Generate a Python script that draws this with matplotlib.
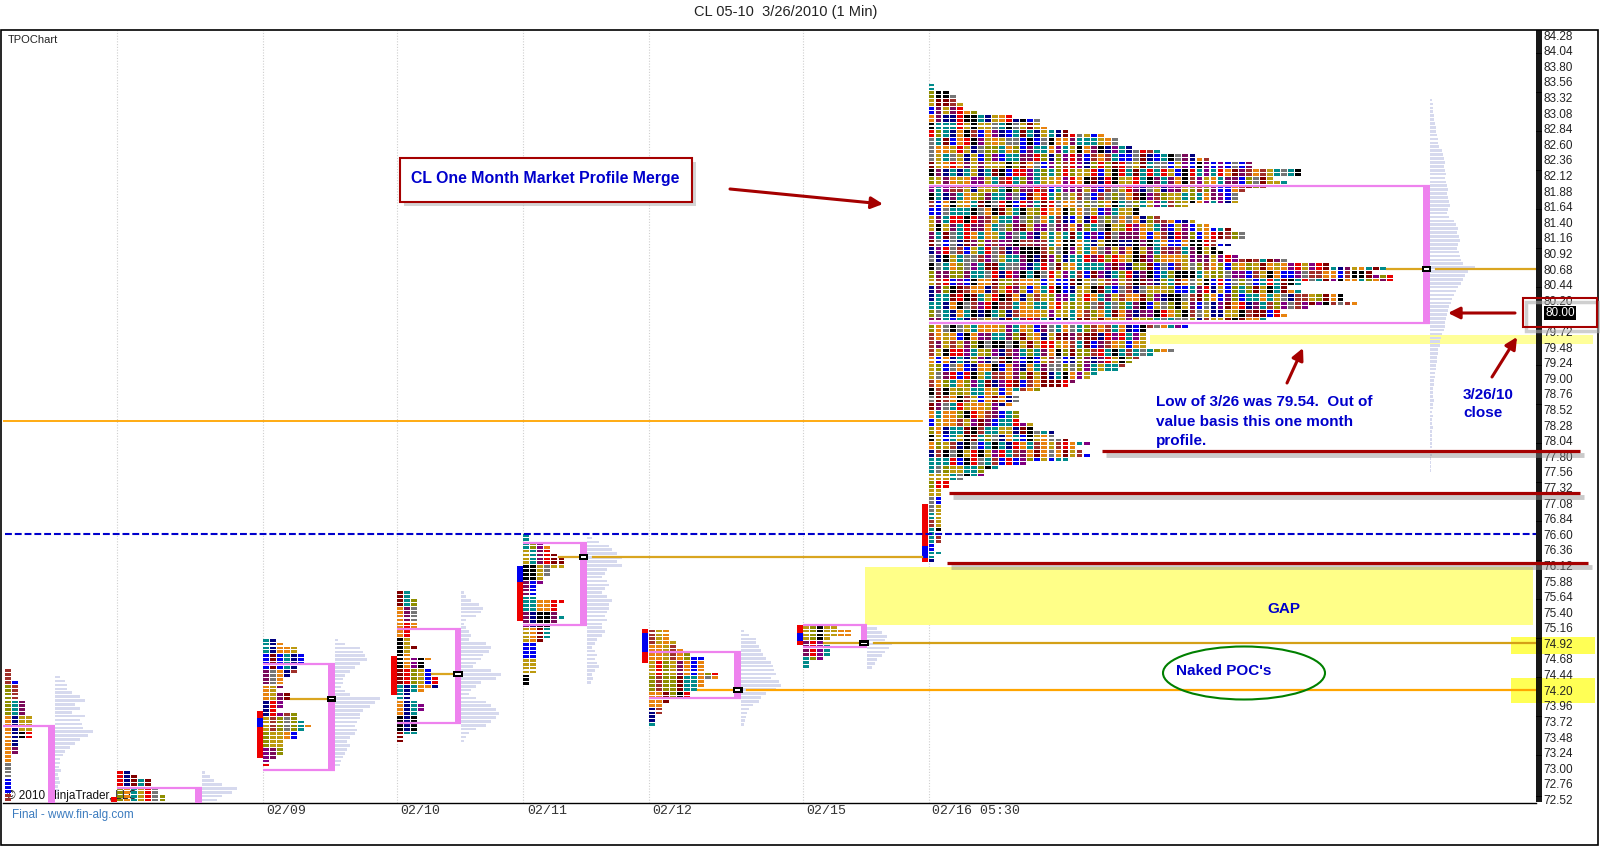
import matplotlib
matplotlib.use("Agg")
import matplotlib.pyplot as plt
from matplotlib.patches import Rectangle, Ellipse
from matplotlib.collections import PatchCollection
from matplotlib import transforms
import matplotlib.ticker as mticker
import numpy as np

plt.rcParams['font.family'] = ['Liberation Sans', 'DejaVu Sans']

# ---------------- data ----------------
TITLE = "CL 05-10  3/26/2010 (1 Min)"
ROW = 0.06  # price height of one TPO row

session_label = ["", "", "02/09", "02/10", "02/11", "02/12", "02/15", "02/16 05:30"]
session_start = [-0.75, 16.2, 36.9, 55.9, 73.8, 91.6, 113.5, 131.3]   # in TPO-period columns
tpo_top = [74.74, 72.93, 74.97, 75.70, 76.58, 75.11, 75.17, 83.51]     # price of top TPO row

tpo_0205 = [1, 1, 1, 1, 2, 2, 2, 3, 3, 3, 3, 3, 4, 4, 4, 4, 5, 5, 5, 5, 5, 5, 3, 3, 3, 3,
            2, 2, 2, 2, 2, 2, 2, 2, 2, 2, 2, 2]
tpo_0208 = [2, 3, 5, 5, 6, 6, 7, 7]
tpo_0209 = [2, 3, 5, 5, 6, 6, 6, 5, 5, 4, 3, 3, 3, 2, 4, 4, 3, 3, 2, 5, 5, 6, 7, 6, 5, 5,
            3, 3, 3, 3, 2, 1, 1]
tpo_0210 = [2, 2, 3, 3, 3, 3, 3, 3, 3, 3, 2, 2, 2, 2, 3, 2, 2, 5, 4, 4, 5, 5, 6, 6, 6, 4,
            2, 2, 3, 4, 4, 3, 3, 3, 3, 3, 3, 1, 1]
tpo_0211 = [1, 1, 3, 4, 4, 5, 6, 6, 6, 4, 4, 3, 3, 2, 2, 2, 2, 6, 5, 5, 5, 6, 5, 4, 4, 4,
            4, 3, 2, 2, 2, 2, 2, 2, 2, 2, 1, 1, 1]
tpo_0212 = [3, 3, 3, 4, 4, 5, 6, 8, 8, 8, 8, 10, 10, 8, 8, 7, 6, 6, 3, 2, 2, 2, 1, 1, 1]
tpo_0215 = [5, 7, 7, 4, 3, 4, 4, 4, 3, 1, 1]
tpo_month = [1, 1, 3, 4, 4, 5, 5, 7, 12, 16, 16, 17, 20, 25, 27, 27, 29, 33, 38, 40,
             46, 46, 53, 53, 49, 51, 48, 45, 44, 44, 44, 37, 30, 30, 33, 38, 40, 43, 45, 45,
             41, 43, 41, 42, 44, 51, 57, 65, 63, 66, 66, 53, 51, 53, 59, 59, 61, 54, 50, 51,
             48, 37, 37, 31, 31, 31, 31, 31, 35, 32, 30, 29, 28, 27, 24, 23, 21, 20, 16, 12,
             13, 13, 12, 10, 13, 13, 13, 15, 15, 18, 18, 20, 23, 21, 22, 23, 20, 14, 10, 8,
             8, 5, 3, 3, 2, 2, 2, 2, 2, 2, 2, 2, 2, 2, 2, 1, 2, 2, 1, 1, 2, 1, 1]

va_high = [73.65, 72.70, 74.60, 75.14, 76.46, 74.79, 75.20, 81.95]
va_low = [72.30, 72.30, 72.97, 73.70, 75.20, 74.08, 74.86, 79.85]
poc = [None, None, 74.07, 74.45, 76.25, 74.20, 74.92, 80.68]

# opening-range bars: (low, high, colour)
open_range = [
    [],
    [(72.48, 72.56, 'red')],
    [(73.16, 73.88, 'red'), (73.63, 73.77, 'blue')],
    [(74.13, 74.73, 'red')],
    [(75.27, 75.87, 'red'), (75.87, 76.11, 'blue')],
    [(74.62, 74.79, 'red'), (74.79, 75.08, 'blue'), (75.08, 75.14, 'red')],
    [(74.90, 74.96, 'red'), (74.96, 75.08, 'blue'), (75.08, 75.20, 'red')],
    [(76.17, 76.24, 'red'), (76.24, 76.42, 'blue'), (76.42, 77.06, 'red')],
]

vol_top = [74.40, 72.93, 74.97, 75.70, 76.54, 75.11, 75.15, 83.28]
vol_0205 = [5, 10, 12, 12, 17, 25, 30, 20, 25, 17, 30, 25, 27, 28, 38, 33, 25, 20, 15, 10,
            8, 5, 5, 4, 6, 3, 4, 5, 3, 4, 3, 3]
vol_0208 = [3, 8, 12, 20, 35, 30, 20, 15]
vol_0209 = [3, 10, 25, 28, 30, 32, 25, 20, 15, 10, 8, 8, 6, 10, 15, 45, 40, 35, 28, 25,
            25, 22, 20, 22, 20, 15, 12, 15, 12, 10, 8, 6, 5]
vol_0210 = [3, 5, 10, 18, 22, 20, 15, 5, 3, 5, 8, 10, 8, 25, 30, 28, 22, 20, 15, 12,
            30, 40, 35, 20, 15, 10, 8, 15, 25, 30, 35, 38, 35, 30, 25, 15, 8, 5, 3]
vol_0211 = [5, 12, 22, 25, 30, 35, 30, 35, 20, 18, 15, 20, 22, 18, 15, 20, 25, 22, 22, 20,
            18, 20, 15, 15, 18, 15, 10, 8, 5, 8, 10, 8, 10, 12, 8, 5, 6, 4]
vol_0212 = [3, 8, 15, 15, 18, 20, 22, 25, 30, 32, 33, 35, 30, 38, 40, 35, 25, 20, 18, 12,
            8, 6, 5, 4, 3]
vol_0215 = [10, 15, 20, 18, 25, 22, 18, 15, 10, 8, 5]
vol_month = [2, 3, 3, 3, 4, 4, 5, 6, 6, 7, 8, 8, 9, 12, 13, 14, 15, 14, 15, 16, 15,
             16, 17, 18, 17, 18, 19, 20, 18, 17, 19, 24, 26, 28, 27, 29, 30, 28,
             27, 29, 30, 31, 33, 45, 38, 35, 33, 31, 28, 26, 24, 22, 21,
             19, 18, 17, 16, 15, 15, 14, 12, 11, 10, 10, 8, 8, 7, 7, 6, 6, 5, 5,
             4, 4, 3, 3, 3, 4, 3, 3, 2, 3, 2, 2, 3, 2, 2, 2, 2, 2, 1, 2, 1, 1, 1, 1]

naked_poc_old = 78.34
prior_high_level = 76.61
support_levels = [77.88, 77.24, 76.16]
close_price = 80.00
low_band = (79.52, 79.67)
gap_zone = (75.20, 76.10)
naked_poc_marks = [74.92, 74.20]

profiles = [tpo_0205, tpo_0208, tpo_0209, tpo_0210, tpo_0211, tpo_0212, tpo_0215, tpo_month]
volumes = [vol_0205, vol_0208, vol_0209, vol_0210, vol_0211, vol_0212, vol_0215, vol_month]

# ---------------- layout / style ----------------
W, H = 1600, 846
PXU = 7.05            # pixels per TPO column
def px2x(px):
    return (px - 3) / PXU
def py2p(py):
    return 84.28 - (py - 35) / 65.0
def P(x, y):
    return (x / W, 1 - y / H)

XMAX = px2x(1536)
va_box_cols = [8.15, 12.0, 10.2, 9.1, 9.0, 13.1, 9.1, 71.1]
poc_ext_end = [None, None, None, None, px2x(922), XMAX, XMAX, XMAX]
poc_color = [None, None, '#DAA520', '#DAA520', '#D9A520', '#FFA500', '#D4A017', '#DAA520']

PALETTE = ['#008B8B', '#800000', '#800080', '#E8830F', '#BC9A10', '#0000F0',
           '#000080', '#000000', '#767676', '#E80000', '#A0302A', '#8E8E00',
           '#E8830F', '#008B8B', '#BC9A10', '#7A0A5A']

def tpo_color(p, r, c, run):
    h = (c * 2654435761 + (r // run) * 40503 + p * 977 + 12345) & 0xffffffff
    h ^= h >> 13
    h = (h * 0x5bd1e995) & 0xffffffff
    h ^= h >> 15
    return PALETTE[h % len(PALETTE)]

VIOLET = '#EE82EE'
DARKRED = '#A50000'
BLUE_TXT = '#0000CC'

fig = plt.figure(figsize=(W / 100, H / 100), dpi=100)
fig.patch.set_facecolor('white')
ax = fig.add_axes([3 / W, 1 - 803 / H, (1536 - 3) / W, (803 - 30) / H])
ax.set_xlim(0, XMAX)
ax.set_ylim(py2p(803), py2p(30))
ax.set_facecolor('white')

# grid lines at session starts
for s in session_start[1:]:
    ax.axvline(s, color='#CFCFCF', lw=0.8, ls=(0, (1, 1.5)), zorder=0.5)

# yellow zones
ax.add_patch(Rectangle((px2x(1150), low_band[0]), px2x(1593) - px2x(1150), low_band[1] - low_band[0],
                       fc='#FFFF99', ec='none', zorder=1, clip_on=False))
ax.add_patch(Rectangle((px2x(865), gap_zone[0]), px2x(1533) - px2x(865), gap_zone[1] - gap_zone[0],
                       fc='#FFFF88', ec='none', zorder=1))
for lvl, (lo_pad, hi_pad) in zip(naked_poc_marks, [(0.16, 0.10), (0.20, 0.19)]):
    ax.add_patch(Rectangle((px2x(1511), lvl - lo_pad), px2x(1595) - px2x(1511), lo_pad + hi_pad,
                           fc='#FFFF55', ec='none', zorder=1, clip_on=False))

# older naked POC line
ax.plot([0, px2x(922)], [naked_poc_old] * 2, color='#FFA500', lw=1.3, zorder=2)

# volume profiles + TPO blocks
blocks, colors, vbars = [], [], []
for p, (start, top, counts) in enumerate(zip(session_start, tpo_top, profiles)):
    run = 2 if p == 7 else 4
    for r, n in enumerate(counts):
        price = top - r * ROW
        for c in range(n):
            blocks.append(Rectangle((start + c, price - 0.021), 0.82, 0.042))
            colors.append(tpo_color(p, r, c, run))
    box_right = start + va_box_cols[p]
    for r, v in enumerate(volumes[p]):
        vbars.append(Rectangle((box_right, vol_top[p] - r * ROW - 0.02), v / PXU, 0.04))
ax.add_collection(PatchCollection(vbars, facecolors='#D6D9EE', edgecolors='none', zorder=2))
ax.add_collection(PatchCollection(blocks, facecolors=colors, edgecolors='none', zorder=3))

# opening range bars, value areas, POCs
for p, start in enumerate(session_start):
    for lo, hi, col in open_range[p]:
        ax.add_patch(Rectangle((start - 0.92, lo), 0.87, hi - lo,
                               fc={'red': '#EE0000', 'blue': '#0000EE'}[col], ec='none', zorder=3.2))
    box_right = start + va_box_cols[p]
    ax.plot([start, box_right], [va_high[p]] * 2, color=VIOLET, lw=1.6, zorder=4,
            solid_capstyle='butt')
    ax.plot([start, box_right], [va_low[p]] * 2, color=VIOLET, lw=1.6, zorder=4,
            solid_capstyle='butt')
    ax.add_patch(Rectangle((box_right - 0.95, va_low[p]), 0.95, va_high[p] - va_low[p],
                           fc=VIOLET, ec='none', zorder=4))
    if poc[p] is not None:
        counts = profiles[p]
        rr = int(round((tpo_top[p] - poc[p]) / ROW))
        x0 = start + counts[rr]
        ax.plot([x0, box_right - 1.1], [poc[p]] * 2, color=poc_color[p], lw=1.6, zorder=3.5)
        if poc_ext_end[p] is not None:
            ax.plot([box_right + 0.9, poc_ext_end[p]], [poc[p]] * 2, color=poc_color[p],
                    lw=1.6, zorder=3.5)
        ax.add_patch(Rectangle((box_right - 1.15, poc[p] - 0.045), 1.35, 0.09,
                               fc='black', ec='none', zorder=5))
        ax.add_patch(Rectangle((box_right - 0.85, poc[p] - 0.012), 0.75, 0.024,
                               fc='white', ec='none', zorder=6))

# prior high dashed line
ax.plot([px2x(5), XMAX], [prior_high_level] * 2, color='#0000CC', lw=1.5,
        ls=(0, (3.3, 1.4)), zorder=3.6)

# support lines with shadow
for lvl, x0, x1 in zip(support_levels, [1102, 949, 947], [1580, 1580, 1588]):
    ax.plot([px2x(x0) + 0.6, px2x(x1) + 0.6], [lvl - 0.065] * 2, color='#8A8A8A', lw=3.5,
            alpha=0.45, clip_on=False, zorder=5.5, solid_capstyle='butt')
    ax.plot([px2x(x0), px2x(x1)], [lvl] * 2, color=DARKRED, lw=2.3, clip_on=False, zorder=6,
            solid_capstyle='butt')

# axes / ticks
ax.yaxis.tick_right()
yt = np.round(np.arange(72.52, 84.30, 0.24), 2)
ax.set_yticks(yt)
ax.set_yticklabels(['' if abs(v - close_price) < 0.05 else '%.2f' % v for v in yt])
ax.yaxis.set_minor_locator(mticker.FixedLocator(np.arange(72.49, 84.36, 0.03)))
ax.tick_params(axis='y', which='both', direction='out', length=4.2, width=1.3, color='black',
               labelsize=8.5, labelcolor='#222222', pad=1.0)
ax.set_xticks([])
for s in ['left', 'top', 'right']:
    ax.spines[s].set_visible(False)
ax.spines['bottom'].set_linewidth(1.0)

blend = transforms.blended_transform_factory(ax.transData, fig.transFigure)
for s, lab in zip(session_start, session_label):
    if lab:
        ax.text(s + 0.5, 1 - 811 / H, lab, transform=blend, ha='left', va='center',
                fontsize=9.5, family=['Liberation Mono', 'DejaVu Sans Mono'], color='#333333')

# current price label
fig.text(1545 / W, 1 - 313 / H, '%.2f' % close_price, color='white', fontsize=8.5,
         va='center', ha='left', bbox=dict(fc='black', ec='none', pad=0.8), zorder=8)

# frame
fig.patches.append(Rectangle((1 / W, 1 / H), 1597 / W, (845 - 30) / H, transform=fig.transFigure,
                             fc='none', ec='black', lw=1.2, zorder=1))

# texts
fig.text(*P(786, 12), TITLE, ha='center', va='center', fontsize=10.5, color='#222222')
fig.text(*P(8, 40), 'TPOChart', ha='left', va='center', fontsize=8, color='#222222')
ax.text(*P(7, 796), '\u00a9 2010 NinjaTrader, LLC', transform=fig.transFigure, fontsize=8.5,
        va='center', ha='left', zorder=2.8, color='#111111')
fig.text(*P(12, 815), 'Final - www.fin-alg.com', fontsize=8.5, va='center', ha='left',
         color='#3B7BBF')

# CL box
fig.patches.append(Rectangle(P(404, 206), 292 / W, 44 / H, transform=fig.transFigure,
                             fc='#B8B8B8', ec='none', alpha=0.6, zorder=6))
fig.patches.append(Rectangle(P(400, 202), 292 / W, 44 / H, transform=fig.transFigure,
                             fc='white', ec=DARKRED, lw=1.5, zorder=7))
fig.text(*P(411, 178), 'CL One Month Market Profile Merge', color=BLUE_TXT, fontweight='bold',
         fontsize=11.4, va='center', ha='left', zorder=8)

# red box at close
fig.patches.append(Rectangle(P(1526, 331), 72 / W, 29 / H, transform=fig.transFigure,
                             fc='none', ec='#B0B0B0', lw=2.5, alpha=0.6, zorder=8))
fig.patches.append(Rectangle(P(1523, 327), 74 / W, 29 / H, transform=fig.transFigure,
                             fc='none', ec=DARKRED, lw=1.5, zorder=9))

# ellipse
fig.patches.append(Ellipse(P(1244, 673), 162 / W, 53 / H, transform=fig.transFigure,
                           fc='none', ec='#008000', lw=1.5, zorder=7))
fig.text(*P(1224, 671), "Naked POC's", color=BLUE_TXT, fontweight='bold', fontsize=11,
         ha='center', va='center', zorder=8)
fig.text(*P(1284, 609), 'GAP', color=BLUE_TXT, fontweight='bold', fontsize=11,
         ha='center', va='center', zorder=8)
for txt, yy in zip(['Low of 3/26 was 79.54.  Out of', 'value basis this one month', 'profile.'],
                   [402, 422, 441]):
    fig.text(*P(1156, yy), txt, color=BLUE_TXT, fontweight='bold', fontsize=11,
             ha='left', va='center', zorder=8)
fig.text(*P(1463, 395), '3/26/10', color=BLUE_TXT, fontweight='bold', fontsize=11,
         ha='left', va='center', zorder=8)
fig.text(*P(1463, 413), 'close', color=BLUE_TXT, fontweight='bold', fontsize=11,
         ha='left', va='center', zorder=8)

# arrows
arrow_kw = dict(arrowstyle='-|>,head_length=0.7,head_width=0.35', color=DARKRED, lw=2.2,
                shrinkA=0, shrinkB=0)
for tail, head in [((730, 189), (883, 204)), ((1287, 383), (1303, 348)),
                   ((1515, 313), (1448, 313)), ((1492, 377), (1517, 337))]:
    ax.annotate('', xy=P(*head), xycoords='figure fraction', xytext=P(*tail),
                textcoords='figure fraction', arrowprops=arrow_kw, zorder=9)

fig.savefig('out.png', dpi=100, facecolor='white')
